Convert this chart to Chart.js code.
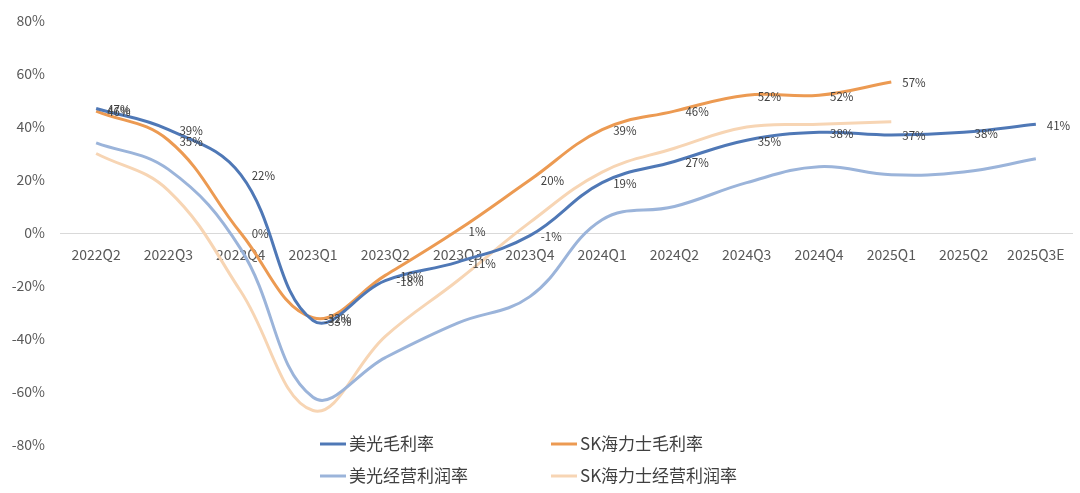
<!DOCTYPE html>
<html>
<head>
<meta charset="utf-8">
<script src="https://cdn.jsdelivr.net/npm/chart.js@4"></script>
<style>
  html, body { margin: 0; padding: 0; background: #fff; }
  #wrap { width: 1080px; height: 493px; }
</style>
</head>
<body>
<div id="wrap"><canvas id="c" width="1080" height="493"></canvas></div>
<script>
const quarters = ['2022Q2', '2022Q3', '2022Q4', '2023Q1', '2023Q2', '2023Q3', '2023Q4',
  '2024Q1', '2024Q2', '2024Q3', '2024Q4', '2025Q1', '2025Q2', '2025Q3E'];

const micronGross = [47, 39, 22, -33, -18, -11, -1, 19, 27, 35, 38, 37, 38, 41];
const skGross = [46, 35, 0, -32, -16, 1, 20, 39, 46, 52, 52, 57, null, null];
const micronOp = [34, 24, -6, -62, -47, -34, -24, 5, 10, 19, 25, 22, 23, 28];
const skOp = [30, 16, -22, -67, -39, -18, 4, 23, 32, 40, 41, 42, null, null];

const yTicks = [-80, -60, -40, -20, 0, 20, 40, 60, 80];

const FONT = "'Noto Sans CJK SC', 'Noto Sans', sans-serif";

// value labels to the right of each point, only for the gross margin series
const pointLabels = {
  id: 'pointLabels',
  afterDatasetsDraw(chart) {
    const ctx = chart.ctx;
    ctx.save();
    ctx.font = '11.5px ' + FONT;
    ctx.fillStyle = '#404040';
    ctx.textAlign = 'left';
    ctx.textBaseline = 'middle';
    chart.data.datasets.forEach((ds, i) => {
      if (!ds.showLabels) return;
      chart.getDatasetMeta(i).data.forEach((pt, j) => {
        const v = ds.data[j];
        if (v === null) return;
        ctx.fillText(v + '%', pt.x + 11, pt.y + 1);
      });
    });
    ctx.restore();
  }
};

// two-row legend at the bottom, overlapping the lower part of the plot
const bottomLegend = {
  id: 'bottomLegend',
  afterDraw(chart) {
    const ctx = chart.ctx;
    const cols = [320, 551];
    const rows = [444, 476];
    ctx.save();
    ctx.font = '17px ' + FONT;
    ctx.fillStyle = '#404040';
    ctx.textBaseline = 'middle';
    chart.data.datasets.forEach((ds, i) => {
      const x = cols[i % 2], y = rows[Math.floor(i / 2)];
      ctx.strokeStyle = ds.borderColor;
      ctx.lineWidth = 3;
      ctx.beginPath();
      ctx.moveTo(x, y);
      ctx.lineTo(x + 26, y);
      ctx.stroke();
      ctx.fillText(ds.label, x + 29, y);
    });
    ctx.restore();
  }
};

new Chart(document.getElementById('c'), {
  type: 'line',
  data: {
    labels: quarters,
    datasets: [
      { label: '美光毛利率', data: micronGross, borderColor: '#4f78b6', showLabels: true },
      { label: 'SK海力士毛利率', data: skGross, borderColor: '#ec9a52', showLabels: true },
      { label: '美光经营利润率', data: micronOp, borderColor: '#9bb4da', showLabels: false },
      { label: 'SK海力士经营利润率', data: skOp, borderColor: '#f7d5b4', showLabels: false }
    ].map(d => Object.assign(d, {
      borderWidth: 3,
      pointRadius: 0,
      tension: 0.4,
      fill: false,
      spanGaps: false
    }))
  },
  options: {
    responsive: false,
    animation: false,
    layout: { padding: { top: 21, right: 8, bottom: 48, left: 0 } },
    plugins: {
      legend: { display: false },
      tooltip: { enabled: false }
    },
    scales: {
      x: {
        position: { y: 0 },
        offset: true,
        grid: { display: false },
        border: { display: true, color: '#d9d9d9', width: 1 },
        ticks: {
          color: '#595959',
          font: { family: FONT, size: 14 },
          maxRotation: 0,
          autoSkip: false,
          padding: 5
        }
      },
      y: {
        min: -80,
        max: 80,
        afterFit(scale) { scale.width = 60; },
        afterBuildTicks(scale) { scale.ticks = yTicks.map(v => ({ value: v })); },
        grid: { display: false },
        border: { display: false },
        ticks: {
          color: '#595959',
          font: { family: FONT, size: 14 },
          padding: 7,
          callback: v => v + '%'
        }
      }
    }
  },
  plugins: [pointLabels, bottomLegend]
});
</script>
</body>
</html>
